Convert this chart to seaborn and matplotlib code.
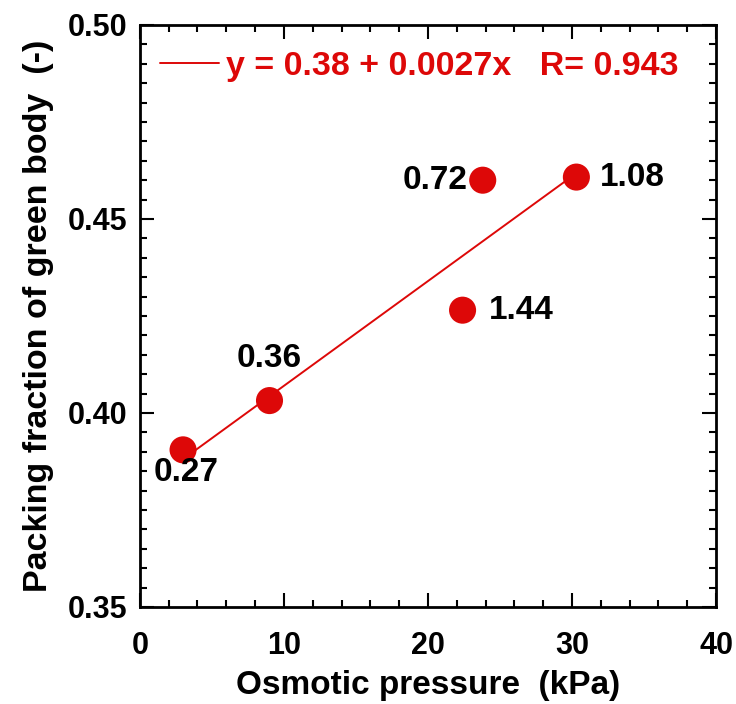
import numpy as np
import pandas as pd
import matplotlib
matplotlib.use("Agg")
import matplotlib.pyplot as plt
from matplotlib.ticker import MultipleLocator, FormatStrFormatter
import seaborn as sns

# Osmotic pressure (kPa) vs. packing fraction of the green body
osmotic_pressure = [3.0, 9.0, 23.8, 30.3, 22.4]
packing_fraction = [0.3905, 0.4032, 0.4600, 0.4608, 0.4265]
point_labels = ["0.27", "0.36", "0.72", "1.08", "1.44"]

# Linear fit reported in the legend
fit_intercept = 0.38
fit_slope = 0.0027
fit_r = 0.943

sns.set_theme(style="ticks")
plt.rcParams["font.family"] = ["Liberation Sans", "DejaVu Sans"]
plt.rcParams["font.weight"] = "bold"
for key in ("text.color", "axes.labelcolor", "xtick.color", "ytick.color", "axes.edgecolor"):
    plt.rcParams[key] = "black"

red = "#DD0808"
df = pd.DataFrame({"P": osmotic_pressure, "phi": packing_fraction, "lab": point_labels})

fig = plt.figure(figsize=(7.36, 7.04), dpi=100)
ax = fig.add_axes([0.190, 0.1378, 0.783, 0.8267])

# fit line over the span of the data
xfit = np.array([min(osmotic_pressure), max(osmotic_pressure)])
yfit = fit_intercept + fit_slope * xfit
sns.lineplot(x=xfit, y=yfit, ax=ax, color=red, lw=1.4,
             label=f"y = {fit_intercept:.2f} + {fit_slope:.4f}x   R= {fit_r:.3f}")

sns.scatterplot(data=df, x="P", y="phi", ax=ax, s=380, color=red,
                edgecolor="none", zorder=3, legend=False)

# value labels next to each point (offsets in points)
offsets = {
    "0.27": ((2, -16), "center", "center"),
    "0.36": ((0, 30), "center", "center"),
    "0.72": ((-11, 0), "right", "center"),
    "1.08": ((17, 0), "left", "center"),
    "1.44": ((19, 0), "left", "center"),
}
for x, y, lab in zip(osmotic_pressure, packing_fraction, point_labels):
    (dx, dy), ha, va = offsets[lab]
    ax.annotate(lab, (x, y), xytext=(dx, dy), textcoords="offset points",
                ha=ha, va=va, fontsize=24, fontweight="bold", color="black")

ax.set_xlim(0, 40)
ax.set_ylim(0.35, 0.50)
ax.xaxis.set_major_locator(MultipleLocator(10))
ax.xaxis.set_minor_locator(MultipleLocator(2))
ax.yaxis.set_major_locator(MultipleLocator(0.05))
ax.yaxis.set_minor_locator(MultipleLocator(0.005))
ax.yaxis.set_major_formatter(FormatStrFormatter("%.2f"))

ax.tick_params(which="both", direction="in", top=True, right=True,
               width=1.5, color="black", labelsize=22)
ax.tick_params(axis="x", pad=17)
ax.tick_params(axis="y", pad=9)
ax.tick_params(which="major", length=10)
ax.tick_params(which="minor", length=5)
for lbl in ax.get_xticklabels() + ax.get_yticklabels():
    lbl.set_fontweight("bold")
for sp in ax.spines.values():
    sp.set_linewidth(2)
    sp.set_color("black")

ax.set_xlabel("Osmotic pressure  (kPa)", fontsize=24, fontweight="bold", labelpad=7)
ax.set_ylabel("Packing fraction of green body  (-)", fontsize=24.5, fontweight="bold", labelpad=10)

leg = ax.legend(loc="center left", frameon=False, fontsize=24.5, handlelength=1.75,
                handletextpad=0.2, borderpad=0, borderaxespad=0,
                bbox_to_anchor=(0.0347, 0.929))
for t in leg.get_texts():
    t.set_color(red)
    t.set_fontweight("bold")

fig.savefig("out.png", dpi=100)
